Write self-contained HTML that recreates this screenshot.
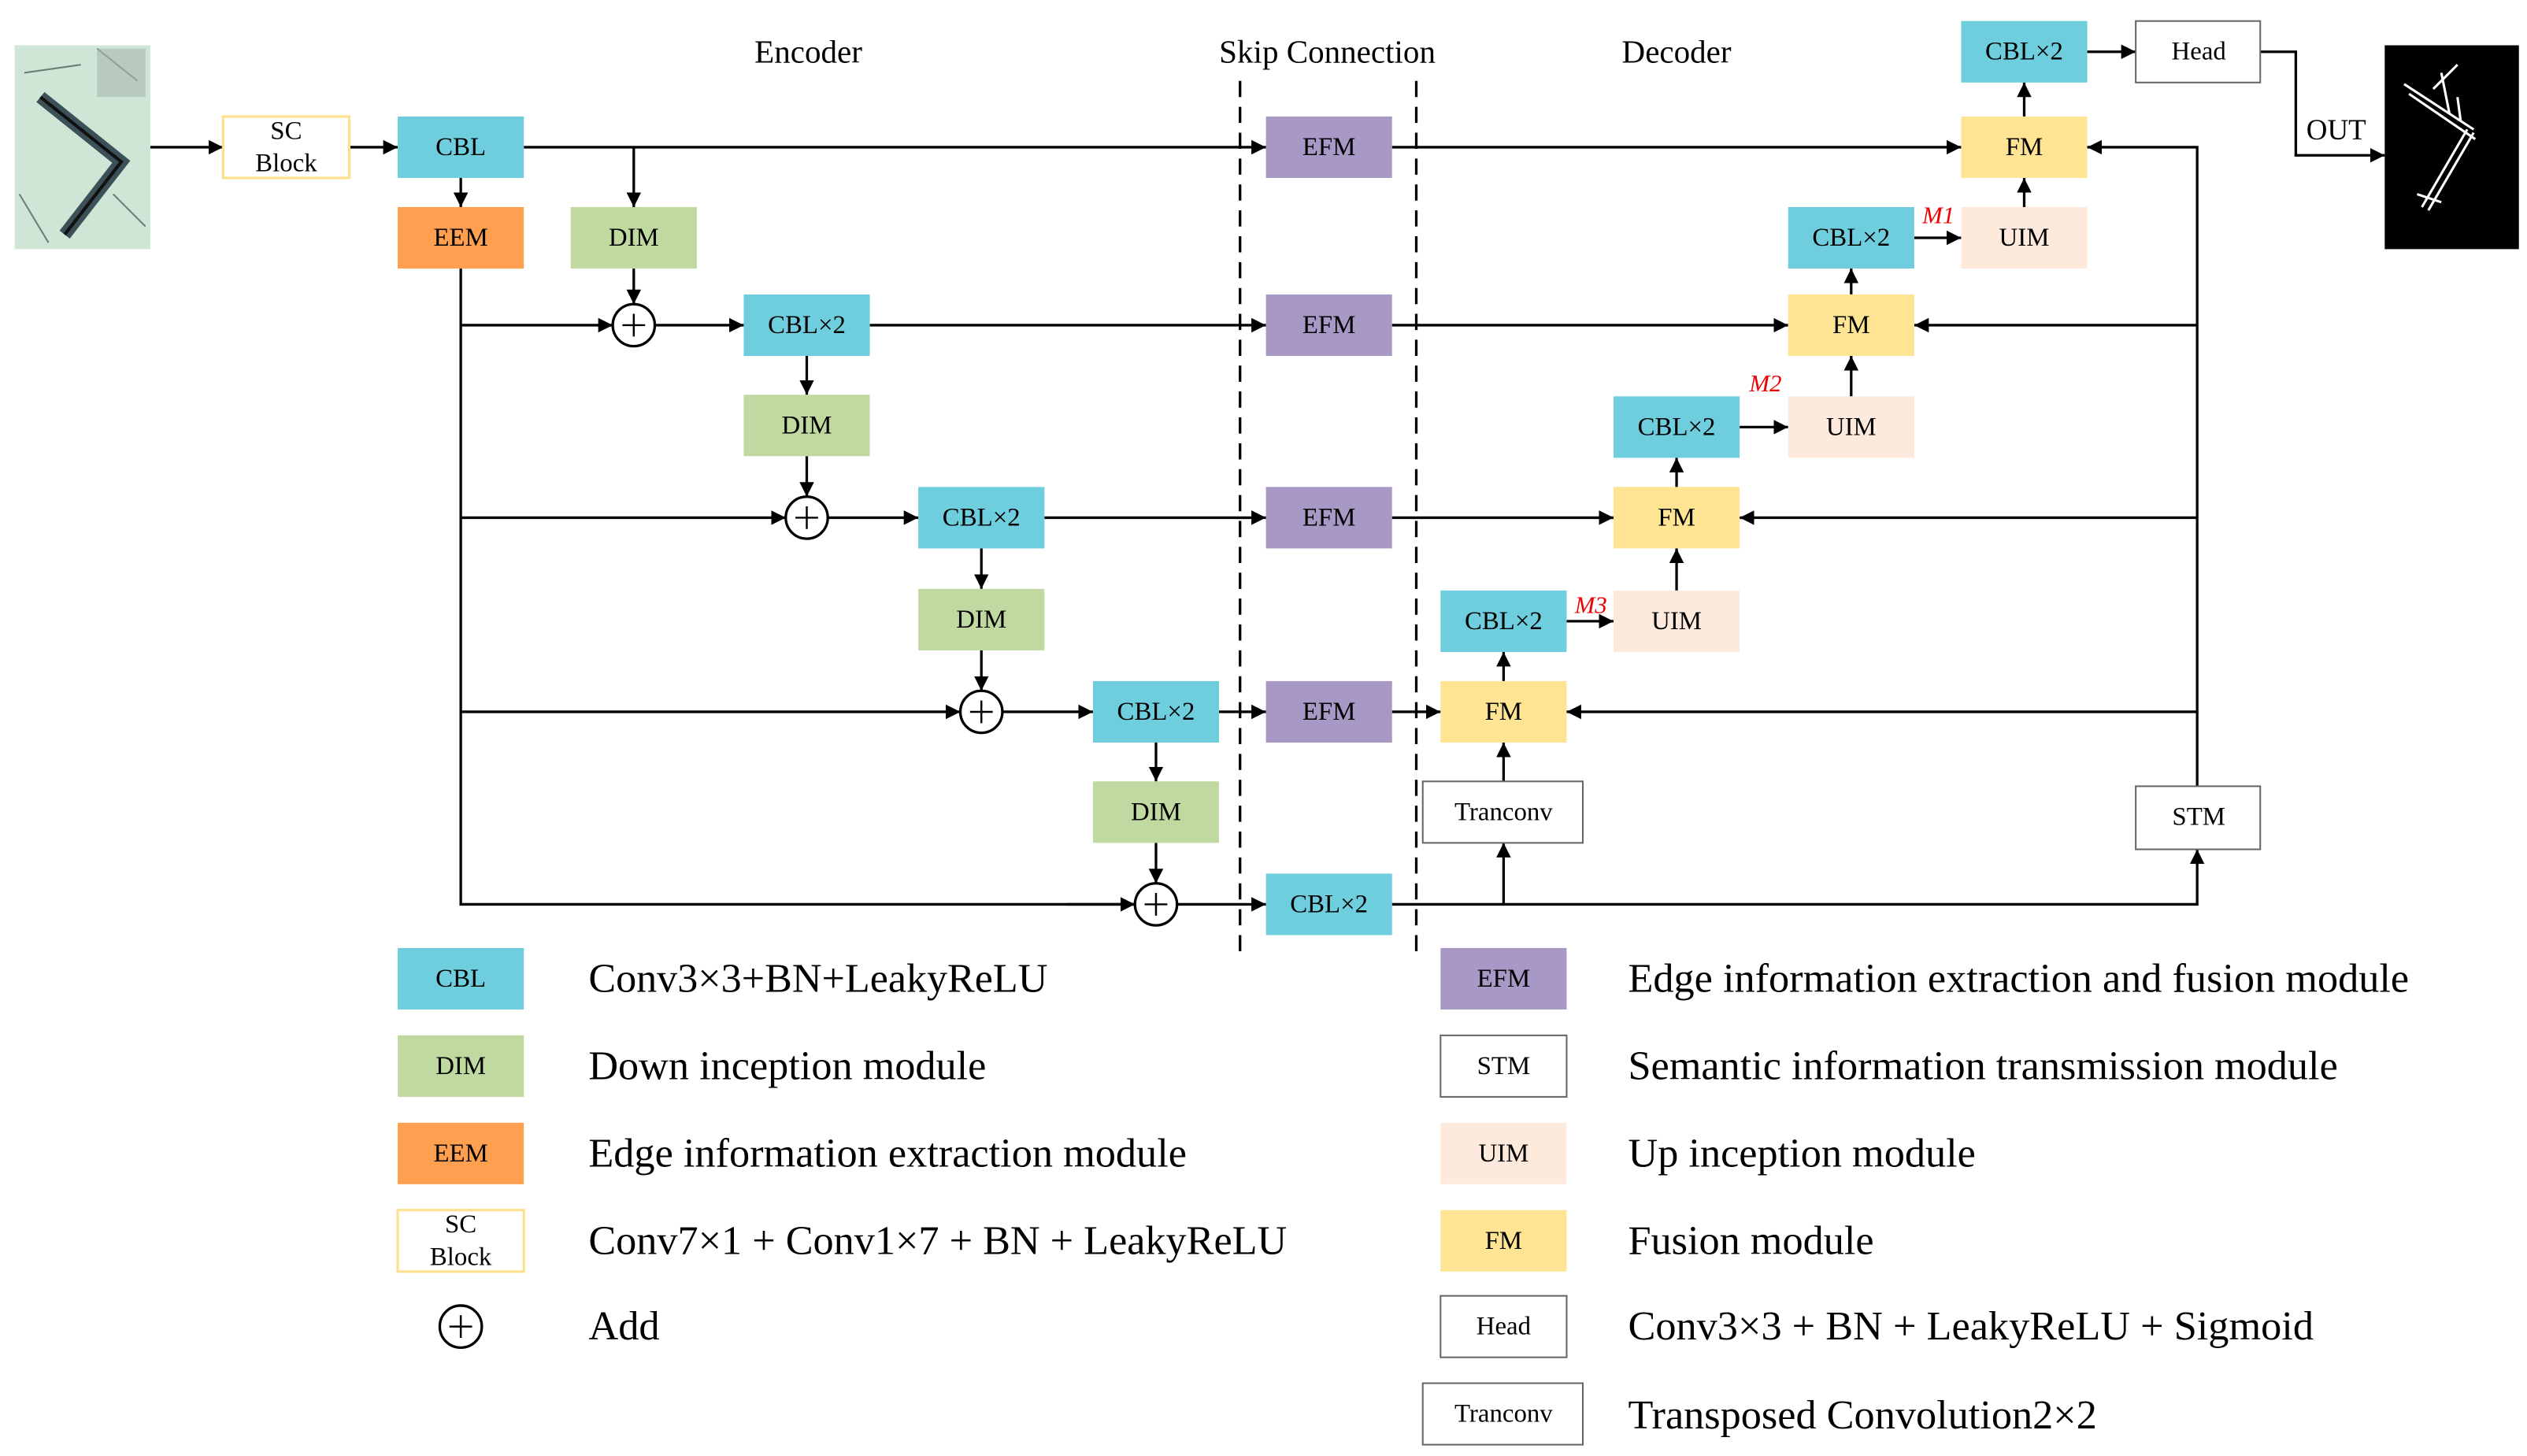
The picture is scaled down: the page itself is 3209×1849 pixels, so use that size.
<!DOCTYPE html>
<html><head><meta charset="utf-8"><style>html,body{margin:0;padding:0;background:#fff}svg{display:block}</style></head><body>
<svg width="3209" height="1849" viewBox="0 0 1563 900" preserveAspectRatio="none" xmlns="http://www.w3.org/2000/svg" font-family="Liberation Serif, serif">
<defs>
<marker id="a" markerUnits="userSpaceOnUse" markerWidth="10" markerHeight="10" refX="9" refY="5" orient="auto"><path d="M0,0.5 L9,5 L0,9.5 Z" fill="#000"/></marker>
</defs>
<style>
.l{stroke:#000;stroke-width:1.6;fill:none}
.t{font-size:16px;text-anchor:middle;dominant-baseline:central}
.lg{font-size:25px;dominant-baseline:central}
.h{font-size:20px;text-anchor:middle;dominant-baseline:central}
</style>

<!-- input image -->
<rect x="9" y="28" width="84" height="126" fill="#cfe6d6"/>
<g stroke="#2c3e42" fill="none">
<path d="M25,60 L75,100 L40,145" stroke-width="8" stroke="#3b5157"/>
<path d="M25,60 L75,100 L40,145" stroke-width="2" stroke="#111"/>
<path d="M15,45 L50,40 M60,30 L85,50 M12,120 L30,150 M70,120 L90,140" stroke-width="1" stroke="#6a7f78"/>
</g>
<rect x="60" y="30" width="30" height="30" fill="#a9b7ae" opacity=".6"/>

<!-- output image -->
<rect x="1475" y="28" width="83" height="126" fill="#000"/>
<g stroke="#fff" stroke-width="1.5" fill="none">
<path d="M1487,52 L1530,80"/><path d="M1490,58 L1531,86"/>
<path d="M1530,82 L1502,130"/><path d="M1526,80 L1498,128"/>
<path d="M1510,45 L1515,70 M1505,55 L1520,40 M1495,120 L1510,125 M1520,60 L1522,75"/>
</g>

<!-- headings -->
<text class="h" x="500" y="32">Encoder</text>
<text class="h" x="821" y="32">Skip Connection</text>
<text class="h" x="1037" y="32">Decoder</text>

<!-- dashed lines -->
<line x1="767" y1="50" x2="767" y2="590" stroke="#000" stroke-width="1.6" stroke-dasharray="10,6"/>
<line x1="876" y1="50" x2="876" y2="590" stroke="#000" stroke-width="1.6" stroke-dasharray="10,6"/>

<!-- connectors -->
<g class="l">
<line x1="93" y1="91" x2="138" y2="91" marker-end="url(#a)"/>
<line x1="216" y1="91" x2="246" y2="91" marker-end="url(#a)"/>
<line x1="324" y1="91" x2="783" y2="91" marker-end="url(#a)"/>
<line x1="285" y1="110" x2="285" y2="128" marker-end="url(#a)"/>
<line x1="392" y1="91" x2="392" y2="128" marker-end="url(#a)"/>
<line x1="392" y1="166" x2="392" y2="188" marker-end="url(#a)"/>
<polyline points="285,166 285,559 702,559"/>
<line x1="285" y1="201" x2="379" y2="201" marker-end="url(#a)"/>
<line x1="285" y1="320" x2="486" y2="320" marker-end="url(#a)"/>
<line x1="285" y1="440" x2="594" y2="440" marker-end="url(#a)"/>
<line x1="660" y1="559" x2="702" y2="559" marker-end="url(#a)"/>
<line x1="405" y1="201" x2="460" y2="201" marker-end="url(#a)"/>
<line x1="538" y1="201" x2="783" y2="201" marker-end="url(#a)"/>
<line x1="499" y1="220" x2="499" y2="244" marker-end="url(#a)"/>
<line x1="499" y1="282" x2="499" y2="307" marker-end="url(#a)"/>
<line x1="512" y1="320" x2="568" y2="320" marker-end="url(#a)"/>
<line x1="646" y1="320" x2="783" y2="320" marker-end="url(#a)"/>
<line x1="607" y1="339" x2="607" y2="364" marker-end="url(#a)"/>
<line x1="607" y1="402" x2="607" y2="427" marker-end="url(#a)"/>
<line x1="620" y1="440" x2="676" y2="440" marker-end="url(#a)"/>
<line x1="754" y1="440" x2="783" y2="440" marker-end="url(#a)"/>
<line x1="715" y1="459" x2="715" y2="483" marker-end="url(#a)"/>
<line x1="715" y1="521" x2="715" y2="546" marker-end="url(#a)"/>
<line x1="728" y1="559" x2="783" y2="559" marker-end="url(#a)"/>
<!-- skip to FMs -->
<line x1="861" y1="91" x2="1213" y2="91" marker-end="url(#a)"/>
<line x1="861" y1="201" x2="1106" y2="201" marker-end="url(#a)"/>
<line x1="861" y1="320" x2="998" y2="320" marker-end="url(#a)"/>
<line x1="861" y1="440" x2="891" y2="440" marker-end="url(#a)"/>
<!-- bottom -->
<polyline points="861,559 1359,559 1359,525" marker-end="url(#a)"/>
<line x1="930" y1="559" x2="930" y2="521" marker-end="url(#a)"/>
<line x1="930" y1="483" x2="930" y2="459" marker-end="url(#a)"/>
<!-- STM up line -->
<polyline points="1359,486 1359,91 1291,91" marker-end="url(#a)"/>
<line x1="1359" y1="201" x2="1184" y2="201" marker-end="url(#a)"/>
<line x1="1359" y1="320" x2="1076" y2="320" marker-end="url(#a)"/>
<line x1="1359" y1="440" x2="969" y2="440" marker-end="url(#a)"/>
<!-- decoder ups -->
<line x1="930" y1="421" x2="930" y2="403" marker-end="url(#a)"/>
<line x1="969" y1="384" x2="998" y2="384" marker-end="url(#a)"/>
<line x1="1037" y1="365" x2="1037" y2="339" marker-end="url(#a)"/>
<line x1="1037" y1="301" x2="1037" y2="283" marker-end="url(#a)"/>
<line x1="1076" y1="264" x2="1106" y2="264" marker-end="url(#a)"/>
<line x1="1145" y1="245" x2="1145" y2="220" marker-end="url(#a)"/>
<line x1="1145" y1="182" x2="1145" y2="166" marker-end="url(#a)"/>
<line x1="1184" y1="147" x2="1213" y2="147" marker-end="url(#a)"/>
<line x1="1252" y1="128" x2="1252" y2="110" marker-end="url(#a)"/>
<line x1="1252" y1="72" x2="1252" y2="51" marker-end="url(#a)"/>
<line x1="1291" y1="32" x2="1321" y2="32" marker-end="url(#a)"/>
<polyline points="1398,32 1420,32 1420,96 1475,96" marker-end="url(#a)"/>
</g>
<text x="1445" y="80" font-size="18" text-anchor="middle" dominant-baseline="central">OUT</text>

<!-- adds -->
<g fill="#fff" stroke="#000" stroke-width="1.6">
<circle cx="392" cy="201" r="13"/><circle cx="499" cy="320" r="13"/>
<circle cx="607" cy="440" r="13"/><circle cx="715" cy="559" r="13"/>
<circle cx="285" cy="820" r="13"/>
</g>
<g stroke="#000" stroke-width="1.2">
<path d="M385,201h14M392,194v14"/><path d="M492,320h14M499,313v14"/>
<path d="M600,440h14M607,433v14"/><path d="M708,559h14M715,552v14"/>
<path d="M278,820h14M285,813v14"/>
</g>

<!-- boxes -->
<g>
<rect x="138" y="72" width="78" height="38" fill="#fff" stroke="#ffe08a" stroke-width="1.5"/>
<text class="t" x="177" y="81">SC</text><text class="t" x="177" y="101">Block</text>

<rect x="246" y="72" width="78" height="38" fill="#6ecedd"/><text class="t" x="285" y="91">CBL</text>
<rect x="246" y="128" width="78" height="38" fill="#fea050"/><text class="t" x="285" y="147">EEM</text>
<rect x="353" y="128" width="78" height="38" fill="#c0d9a0"/><text class="t" x="392" y="147">DIM</text>
<rect x="460" y="182" width="78" height="38" fill="#6ecedd"/><text class="t" x="499" y="201">CBL×2</text>
<rect x="460" y="244" width="78" height="38" fill="#c0d9a0"/><text class="t" x="499" y="263">DIM</text>
<rect x="568" y="301" width="78" height="38" fill="#6ecedd"/><text class="t" x="607" y="320">CBL×2</text>
<rect x="568" y="364" width="78" height="38" fill="#c0d9a0"/><text class="t" x="607" y="383">DIM</text>
<rect x="676" y="421" width="78" height="38" fill="#6ecedd"/><text class="t" x="715" y="440">CBL×2</text>
<rect x="676" y="483" width="78" height="38" fill="#c0d9a0"/><text class="t" x="715" y="502">DIM</text>

<rect x="783" y="72" width="78" height="38" fill="#a898c6"/><text class="t" x="822" y="91">EFM</text>
<rect x="783" y="182" width="78" height="38" fill="#a898c6"/><text class="t" x="822" y="201">EFM</text>
<rect x="783" y="301" width="78" height="38" fill="#a898c6"/><text class="t" x="822" y="320">EFM</text>
<rect x="783" y="421" width="78" height="38" fill="#a898c6"/><text class="t" x="822" y="440">EFM</text>
<rect x="783" y="540" width="78" height="38" fill="#6ecedd"/><text class="t" x="822" y="559">CBL×2</text>

<rect x="891" y="421" width="78" height="38" fill="#fee493"/><text class="t" x="930" y="440">FM</text>
<rect x="880" y="483" width="99" height="38" fill="#fff" stroke="#666" stroke-width="1"/><text class="t" x="930" y="502">Tranconv</text>
<rect x="891" y="365" width="78" height="38" fill="#6ecedd"/><text class="t" x="930" y="384">CBL×2</text>
<rect x="998" y="365" width="78" height="38" fill="#fdeadd"/><text class="t" x="1037" y="384">UIM</text>
<rect x="998" y="301" width="78" height="38" fill="#fee493"/><text class="t" x="1037" y="320">FM</text>
<rect x="998" y="245" width="78" height="38" fill="#6ecedd"/><text class="t" x="1037" y="264">CBL×2</text>
<rect x="1106" y="245" width="78" height="38" fill="#fdeadd"/><text class="t" x="1145" y="264">UIM</text>
<rect x="1106" y="182" width="78" height="38" fill="#fee493"/><text class="t" x="1145" y="201">FM</text>
<rect x="1106" y="128" width="78" height="38" fill="#6ecedd"/><text class="t" x="1145" y="147">CBL×2</text>
<rect x="1213" y="128" width="78" height="38" fill="#fdeadd"/><text class="t" x="1252" y="147">UIM</text>
<rect x="1213" y="72" width="78" height="38" fill="#fee493"/><text class="t" x="1252" y="91">FM</text>
<rect x="1213" y="13" width="78" height="38" fill="#6ecedd"/><text class="t" x="1252" y="32">CBL×2</text>
<rect x="1321" y="13" width="77" height="38" fill="#fff" stroke="#666" stroke-width="1"/><text class="t" x="1360" y="32">Head</text>
<rect x="1321" y="486" width="77" height="39" fill="#fff" stroke="#666" stroke-width="1"/><text class="t" x="1360" y="505">STM</text>
</g>
<g fill="#e00" font-size="15" font-style="italic" text-anchor="middle">
<text x="1199" y="138">M1</text><text x="1092" y="242">M2</text><text x="984" y="379">M3</text>
</g>

<!-- legend -->
<rect x="246" y="586" width="78" height="38" fill="#6ecedd"/><text class="t" x="285" y="605">CBL</text>
<rect x="246" y="640" width="78" height="38" fill="#c0d9a0"/><text class="t" x="285" y="659">DIM</text>
<rect x="246" y="694" width="78" height="38" fill="#fea050"/><text class="t" x="285" y="713">EEM</text>
<rect x="246" y="748" width="78" height="38" fill="#fff" stroke="#ffe08a" stroke-width="1.5"/>
<text class="t" x="285" y="757">SC</text><text class="t" x="285" y="777">Block</text>
<text class="lg" x="364" y="605" textLength="284" lengthAdjust="spacingAndGlyphs">Conv3×3+BN+LeakyReLU</text>
<text class="lg" x="364" y="659" textLength="246" lengthAdjust="spacingAndGlyphs">Down inception module</text>
<text class="lg" x="364" y="713" textLength="370" lengthAdjust="spacingAndGlyphs">Edge information extraction module</text>
<text class="lg" x="364" y="767" textLength="432" lengthAdjust="spacingAndGlyphs">Conv7×1 + Conv1×7 + BN + LeakyReLU</text>
<text class="lg" x="364" y="820" textLength="44" lengthAdjust="spacingAndGlyphs">Add</text>

<rect x="891" y="586" width="78" height="38" fill="#a898c6"/><text class="t" x="930" y="605">EFM</text>
<rect x="891" y="640" width="78" height="38" fill="#fff" stroke="#666" stroke-width="1"/><text class="t" x="930" y="659">STM</text>
<rect x="891" y="694" width="78" height="38" fill="#fdeadd"/><text class="t" x="930" y="713">UIM</text>
<rect x="891" y="748" width="78" height="38" fill="#fee493"/><text class="t" x="930" y="767">FM</text>
<rect x="891" y="801" width="78" height="38" fill="#fff" stroke="#666" stroke-width="1"/><text class="t" x="930" y="820">Head</text>
<rect x="880" y="855" width="99" height="38" fill="#fff" stroke="#666" stroke-width="1"/><text class="t" x="930" y="874">Tranconv</text>
<text class="lg" x="1007" y="605" textLength="483" lengthAdjust="spacingAndGlyphs">Edge information extraction and fusion module</text>
<text class="lg" x="1007" y="659" textLength="439" lengthAdjust="spacingAndGlyphs">Semantic information transmission module</text>
<text class="lg" x="1007" y="713" textLength="215" lengthAdjust="spacingAndGlyphs">Up inception module</text>
<text class="lg" x="1007" y="767" textLength="152" lengthAdjust="spacingAndGlyphs">Fusion module</text>
<text class="lg" x="1007" y="820" textLength="424" lengthAdjust="spacingAndGlyphs">Conv3×3 + BN + LeakyReLU + Sigmoid</text>
<text class="lg" x="1007" y="875" textLength="290" lengthAdjust="spacingAndGlyphs">Transposed Convolution2×2</text>
</svg>
</body></html>
